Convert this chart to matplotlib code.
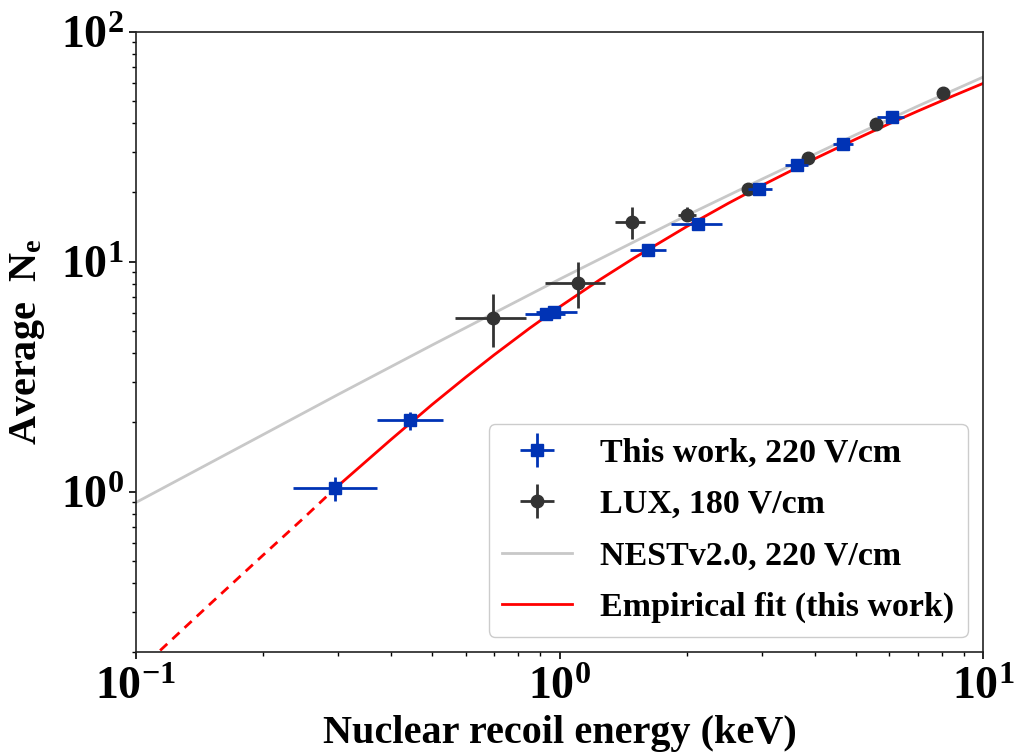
import numpy as np
import matplotlib
matplotlib.use("Agg")
import matplotlib.pyplot as plt
from matplotlib.ticker import FuncFormatter, NullFormatter

# ---------------- data ----------------
# This work, 220 V/cm
tw_E = [0.296, 0.443, 0.93, 0.97, 1.62, 2.12, 2.96, 3.64, 4.67, 6.10]
tw_E_lo = [0.235, 0.371, 0.83, 0.88, 1.47, 1.83, 2.78, 3.41, 4.43, 5.61]
tw_E_hi = [0.371, 0.531, 1.03, 1.10, 1.78, 2.42, 3.18, 3.85, 4.92, 6.50]
tw_N = [1.04, 2.04, 5.9, 6.05, 11.2, 14.6, 20.6, 26.4, 32.6, 42.7]
tw_N_lo = [0.905, 1.86, 5.6, 5.75, 10.7, 14.0, 19.8, 25.4, 31.4, 41.2]
tw_N_hi = [1.16, 2.22, 6.2, 6.35, 11.7, 15.2, 21.4, 27.4, 33.8, 44.2]

# LUX, 180 V/cm
lux_E = [0.697, 1.106, 1.48, 2.00, 2.79, 3.86, 5.58, 8.05]
lux_E_lo = [0.566, 0.925, 1.35, 1.90, 2.79, 3.86, 5.58, 8.05]
lux_E_hi = [0.834, 1.28, 1.59, 2.10, 2.79, 3.86, 5.58, 8.05]
lux_N = [5.71, 8.1, 14.8, 16.0, 20.7, 28.1, 39.8, 54.3]
lux_N_lo = [4.27, 6.3, 12.6, 15.0, 20.7, 28.1, 39.8, 54.3]
lux_N_hi = [7.2, 10.0, 17.2, 17.2, 20.7, 28.1, 39.8, 54.3]

# NESTv2.0, 220 V/cm
nest_E = [0.1, 0.2, 0.3, 0.5, 1.0, 2.0, 3.0, 5.0, 7.0, 10.0]
nest_N = [0.895, 1.77, 2.64, 4.33, 8.38, 15.9, 22.8, 35.6, 47.4, 63.5]

# Empirical fit (this work)
fit_E = [0.1, 0.113, 0.15, 0.2, 0.25, 0.296, 0.4, 0.5, 0.6, 0.7, 0.85, 1.0,
         1.25, 1.5, 2.0, 2.5, 3.0, 4.0, 5.0, 6.0, 7.0, 8.5, 10.0]
fit_N = [0.162, 0.2, 0.325, 0.53, 0.772, 1.035, 1.681, 2.386, 3.135, 3.92, 5.13, 6.35,
         8.38, 10.37, 14.23, 17.91, 21.41, 27.99, 34.06, 39.77, 45.1, 52.6, 59.6]
fit_threshold = 0.296

# ---------------- style ----------------
plt.rcParams['font.family'] = ['Liberation Serif', 'DejaVu Serif']
plt.rcParams['font.weight'] = 'bold'
plt.rcParams['mathtext.fontset'] = 'custom'
plt.rcParams['mathtext.rm'] = 'Liberation Serif:bold'
plt.rcParams['mathtext.it'] = 'Liberation Serif:bold'
plt.rcParams['mathtext.bf'] = 'Liberation Serif:bold'

blue = '#0033b5'
black = '#333333'

fig = plt.figure(figsize=(10.21, 7.54), dpi=100)
ax = fig.add_axes([0.133, 0.135, 0.830, 0.823])

fe = np.array(fit_E)
fn = np.array(fit_N)
mask_solid = fe >= fit_threshold
mask_dash = fe <= fit_threshold

ax.plot(nest_E, nest_N, color='#c8c8c8', lw=2, label='NESTv2.0, 220 V/cm', zorder=1)
ax.plot(fe[mask_dash], fn[mask_dash], color='red', lw=2, ls=(0, (3.5, 2.5)), zorder=2)
ax.plot(fe[mask_solid], fn[mask_solid], color='red', lw=2, label='Empirical fit (this work)', zorder=2)

tw_E_a = np.array(tw_E); tw_N_a = np.array(tw_N)
xerr_tw = [tw_E_a - np.array(tw_E_lo), np.array(tw_E_hi) - tw_E_a]
yerr_tw = [tw_N_a - np.array(tw_N_lo), np.array(tw_N_hi) - tw_N_a]
lux_E_a = np.array(lux_E); lux_N_a = np.array(lux_N)
xerr_lux = [lux_E_a - np.array(lux_E_lo), np.array(lux_E_hi) - lux_E_a]
yerr_lux = [lux_N_a - np.array(lux_N_lo), np.array(lux_N_hi) - lux_N_a]

ax.errorbar(lux_E, lux_N, xerr=xerr_lux, yerr=yerr_lux, fmt='o', color=black,
            ms=9, elinewidth=2, capsize=0, label='LUX, 180 V/cm', zorder=3)
ax.errorbar(tw_E, tw_N, xerr=xerr_tw, yerr=yerr_tw, fmt='s', color=blue,
            ms=9, elinewidth=2, capsize=0, label='This work, 220 V/cm', zorder=4)

ax.set_xscale('log')
ax.set_yscale('log')
ax.set_xlim(0.1, 10)
ax.set_ylim(0.2, 100)

fmt = FuncFormatter(lambda v, p: r'$\mathbf{10^{%d}}$' % int(round(np.log10(v))))
ax.xaxis.set_major_formatter(fmt)
ax.yaxis.set_major_formatter(fmt)
ax.xaxis.set_minor_formatter(NullFormatter())
ax.yaxis.set_minor_formatter(NullFormatter())
ax.tick_params(axis='both', which='major', labelsize=33, length=5, width=1.2)
ax.tick_params(axis='x', which='major', pad=6)
ax.tick_params(axis='both', which='minor', length=3, width=1.0)
for s in ax.spines.values():
    s.set_linewidth(1.2)
    s.set_color('#222222')

ax.set_xlabel('Nuclear recoil energy (keV)', fontsize=29, fontweight='bold', labelpad=4)
ax.set_ylabel(r'Average  $\mathbf{N_e}$', fontsize=29, fontweight='bold', labelpad=10)

handles, labels = ax.get_legend_handles_labels()
order = [labels.index(l) for l in ['This work, 220 V/cm', 'LUX, 180 V/cm',
                                    'NESTv2.0, 220 V/cm', 'Empirical fit (this work)']]
leg = ax.legend([handles[i] for i in order], [labels[i] for i in order],
                loc='lower right', prop={'weight': 'bold', 'size': 24.5},
                handlelength=2.06, handletextpad=0.82, labelspacing=0.6,
                borderaxespad=0.45, borderpad=0.4, framealpha=1, edgecolor='#cccccc')

fig.savefig('out.png', dpi=100)
